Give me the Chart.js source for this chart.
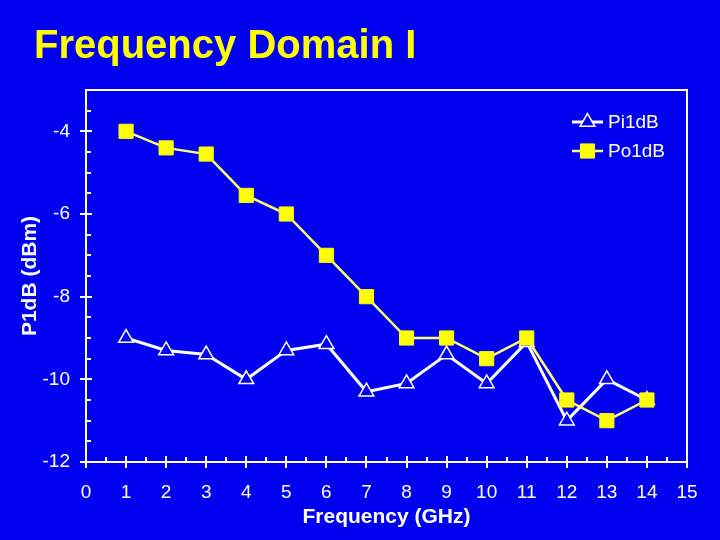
<!DOCTYPE html>
<html>
<head>
<meta charset="utf-8">
<title>Frequency Domain I</title>
<script src="https://cdn.jsdelivr.net/npm/chart.js@4/dist/chart.umd.min.js"></script>
<style>
  html, body { margin: 0; padding: 0; background: #0000f0; }
  #wrap { width: 720px; height: 540px; }
</style>
</head>
<body>
<div id="wrap"><canvas id="chart" width="720" height="540"></canvas></div>
<script>
/* ── Data ── */
const FREQ_GHZ = [1, 2, 3, 4, 5, 6, 7, 8, 9, 10, 11, 12, 13, 14];
const PI1DB = [-9.0, -9.3, -9.4, -10.0, -9.3, -9.15, -10.3, -10.1, -9.4, -10.1, -9.1, -11.0, -10.0, -10.5];
const PO1DB = [-4.0, -4.4, -4.55, -5.55, -6.0, -7.0, -8.0, -9.0, -9.0, -9.5, -9.0, -10.5, -11.0, -10.5];
const SERIES_NAMES = ['Pi1dB', 'Po1dB'];
const X_RANGE = [0, 15];
const Y_RANGE = [-12, -3];

/* ── Styling ── */
const BG = '#0000f0';
const WHITE = '#ffffff';
const YELLOW = '#ffff00';
const FONT = "'Liberation Sans', Arial, sans-serif";

const toPoints = (ys) => FREQ_GHZ.map((x, i) => ({ x, y: ys[i] }));

/* frame, crossing major ticks, inside minor ticks, title and legend */
const slideDecor = {
    id: 'slideDecor',
    beforeDraw(chart) {
        const { ctx, width, height } = chart;
        ctx.save();
        ctx.fillStyle = BG;
        ctx.fillRect(0, 0, width, height);
        ctx.restore();
    },
    beforeDatasetsDraw(chart) {
        const { ctx, chartArea: a, scales: { x, y } } = chart;
        ctx.save();
        ctx.strokeStyle = WHITE;
        ctx.lineWidth = 2;
        ctx.strokeRect(a.left, a.top, a.right - a.left, a.bottom - a.top);
        ctx.beginPath();
        x.ticks.forEach(t => {
            const px = Math.round(x.getPixelForValue(t.value));
            const major = Number.isInteger(t.value);
            ctx.moveTo(px, a.bottom + (major ? 6 : 0));
            ctx.lineTo(px, a.bottom - (major ? 6 : 5));
        });
        y.ticks.forEach(t => {
            const py = Math.round(y.getPixelForValue(t.value));
            const major = t.value % 2 === 0;
            ctx.moveTo(a.left - (major ? 6 : 0), py);
            ctx.lineTo(a.left + (major ? 6 : 5), py);
        });
        ctx.stroke();
        ctx.restore();
    },
    afterDraw(chart) {
        const { ctx, chartArea: a } = chart;
        ctx.save();

        // slide title
        ctx.fillStyle = YELLOW;
        ctx.font = `bold 40px ${FONT}`;
        ctx.textAlign = 'left';
        ctx.textBaseline = 'alphabetic';
        ctx.fillText('Frequency Domain I', 34, 58);

        // legend, top right inside the frame
        const lx0 = a.right - 115, lx1 = a.right - 84;
        chart.data.datasets.forEach((ds, i) => {
            const ly = a.top + 32 + i * 29;
            ctx.strokeStyle = ds.borderColor;
            ctx.lineWidth = ds.borderWidth;
            ctx.beginPath();
            ctx.moveTo(lx0, ly);
            ctx.lineTo(lx1, ly);
            ctx.stroke();
            ctx.fillStyle = ds.pointBackgroundColor;
            ctx.strokeStyle = ds.pointBorderColor;
            ctx.lineWidth = ds.pointBorderWidth;
            Chart.helpers.drawPoint(ctx, {
                pointStyle: ds.pointStyle,
                radius: ds.pointRadius,
                rotation: 0,
                borderWidth: ds.pointBorderWidth
            }, (lx0 + lx1) / 2, ly);
            ctx.fillStyle = WHITE;
            ctx.font = `19px ${FONT}`;
            ctx.textBaseline = 'middle';
            ctx.fillText(ds.label, lx1 + 5, ly + 1);
        });
        ctx.restore();
    }
};

new Chart(document.getElementById('chart'), {
    type: 'line',
    data: {
        datasets: [
            {
                label: SERIES_NAMES[0],
                data: toPoints(PI1DB),
                order: 1,
                borderColor: WHITE,
                borderWidth: 3,
                pointStyle: 'triangle',
                pointRadius: 8.5,
                pointBackgroundColor: BG,
                pointBorderColor: WHITE,
                pointBorderWidth: 1.5,
                tension: 0
            },
            {
                label: SERIES_NAMES[1],
                data: toPoints(PO1DB),
                order: 0,
                borderColor: '#ffff70',
                borderWidth: 2.5,
                pointStyle: 'rect',
                pointRadius: 10,
                pointBackgroundColor: YELLOW,
                pointBorderColor: YELLOW,
                pointBorderWidth: 1,
                tension: 0
            }
        ]
    },
    options: {
        responsive: false,
        animation: false,
        devicePixelRatio: 1,
        layout: { padding: { top: 90, right: 33, left: 0, bottom: 0 } },
        plugins: {
            legend: { display: false },
            tooltip: { enabled: false }
        },
        scales: {
            x: {
                type: 'linear',
                min: X_RANGE[0],
                max: X_RANGE[1],
                afterFit: s => { s.height = 78; },
                grid: { display: false, drawTicks: false },
                border: { display: false },
                ticks: {
                    stepSize: 0.5,
                    autoSkip: false,
                    maxRotation: 0,
                    padding: 19,
                    color: WHITE,
                    font: { family: FONT, size: 19 },
                    callback: v => Number.isInteger(v) ? String(v) : ''
                },
                title: {
                    display: true,
                    text: 'Frequency (GHz)',
                    color: WHITE,
                    font: { family: FONT, size: 21, weight: 'bold' },
                    padding: { top: 0, bottom: 10 }
                }
            },
            y: {
                min: Y_RANGE[0],
                max: Y_RANGE[1],
                afterFit: s => { s.width = 86; },
                grid: { display: false, drawTicks: false },
                border: { display: false },
                ticks: {
                    stepSize: 0.5,
                    autoSkip: false,
                    padding: 16,
                    color: WHITE,
                    font: { family: FONT, size: 19 },
                    callback: v => v % 2 === 0 ? String(v) : ''
                },
                title: {
                    display: true,
                    text: 'P1dB (dBm)',
                    color: WHITE,
                    font: { family: FONT, size: 21, weight: 'bold' },
                    padding: { top: 18, bottom: 0 }
                }
            }
        }
    },
    plugins: [slideDecor]
});
</script>
</body>
</html>
